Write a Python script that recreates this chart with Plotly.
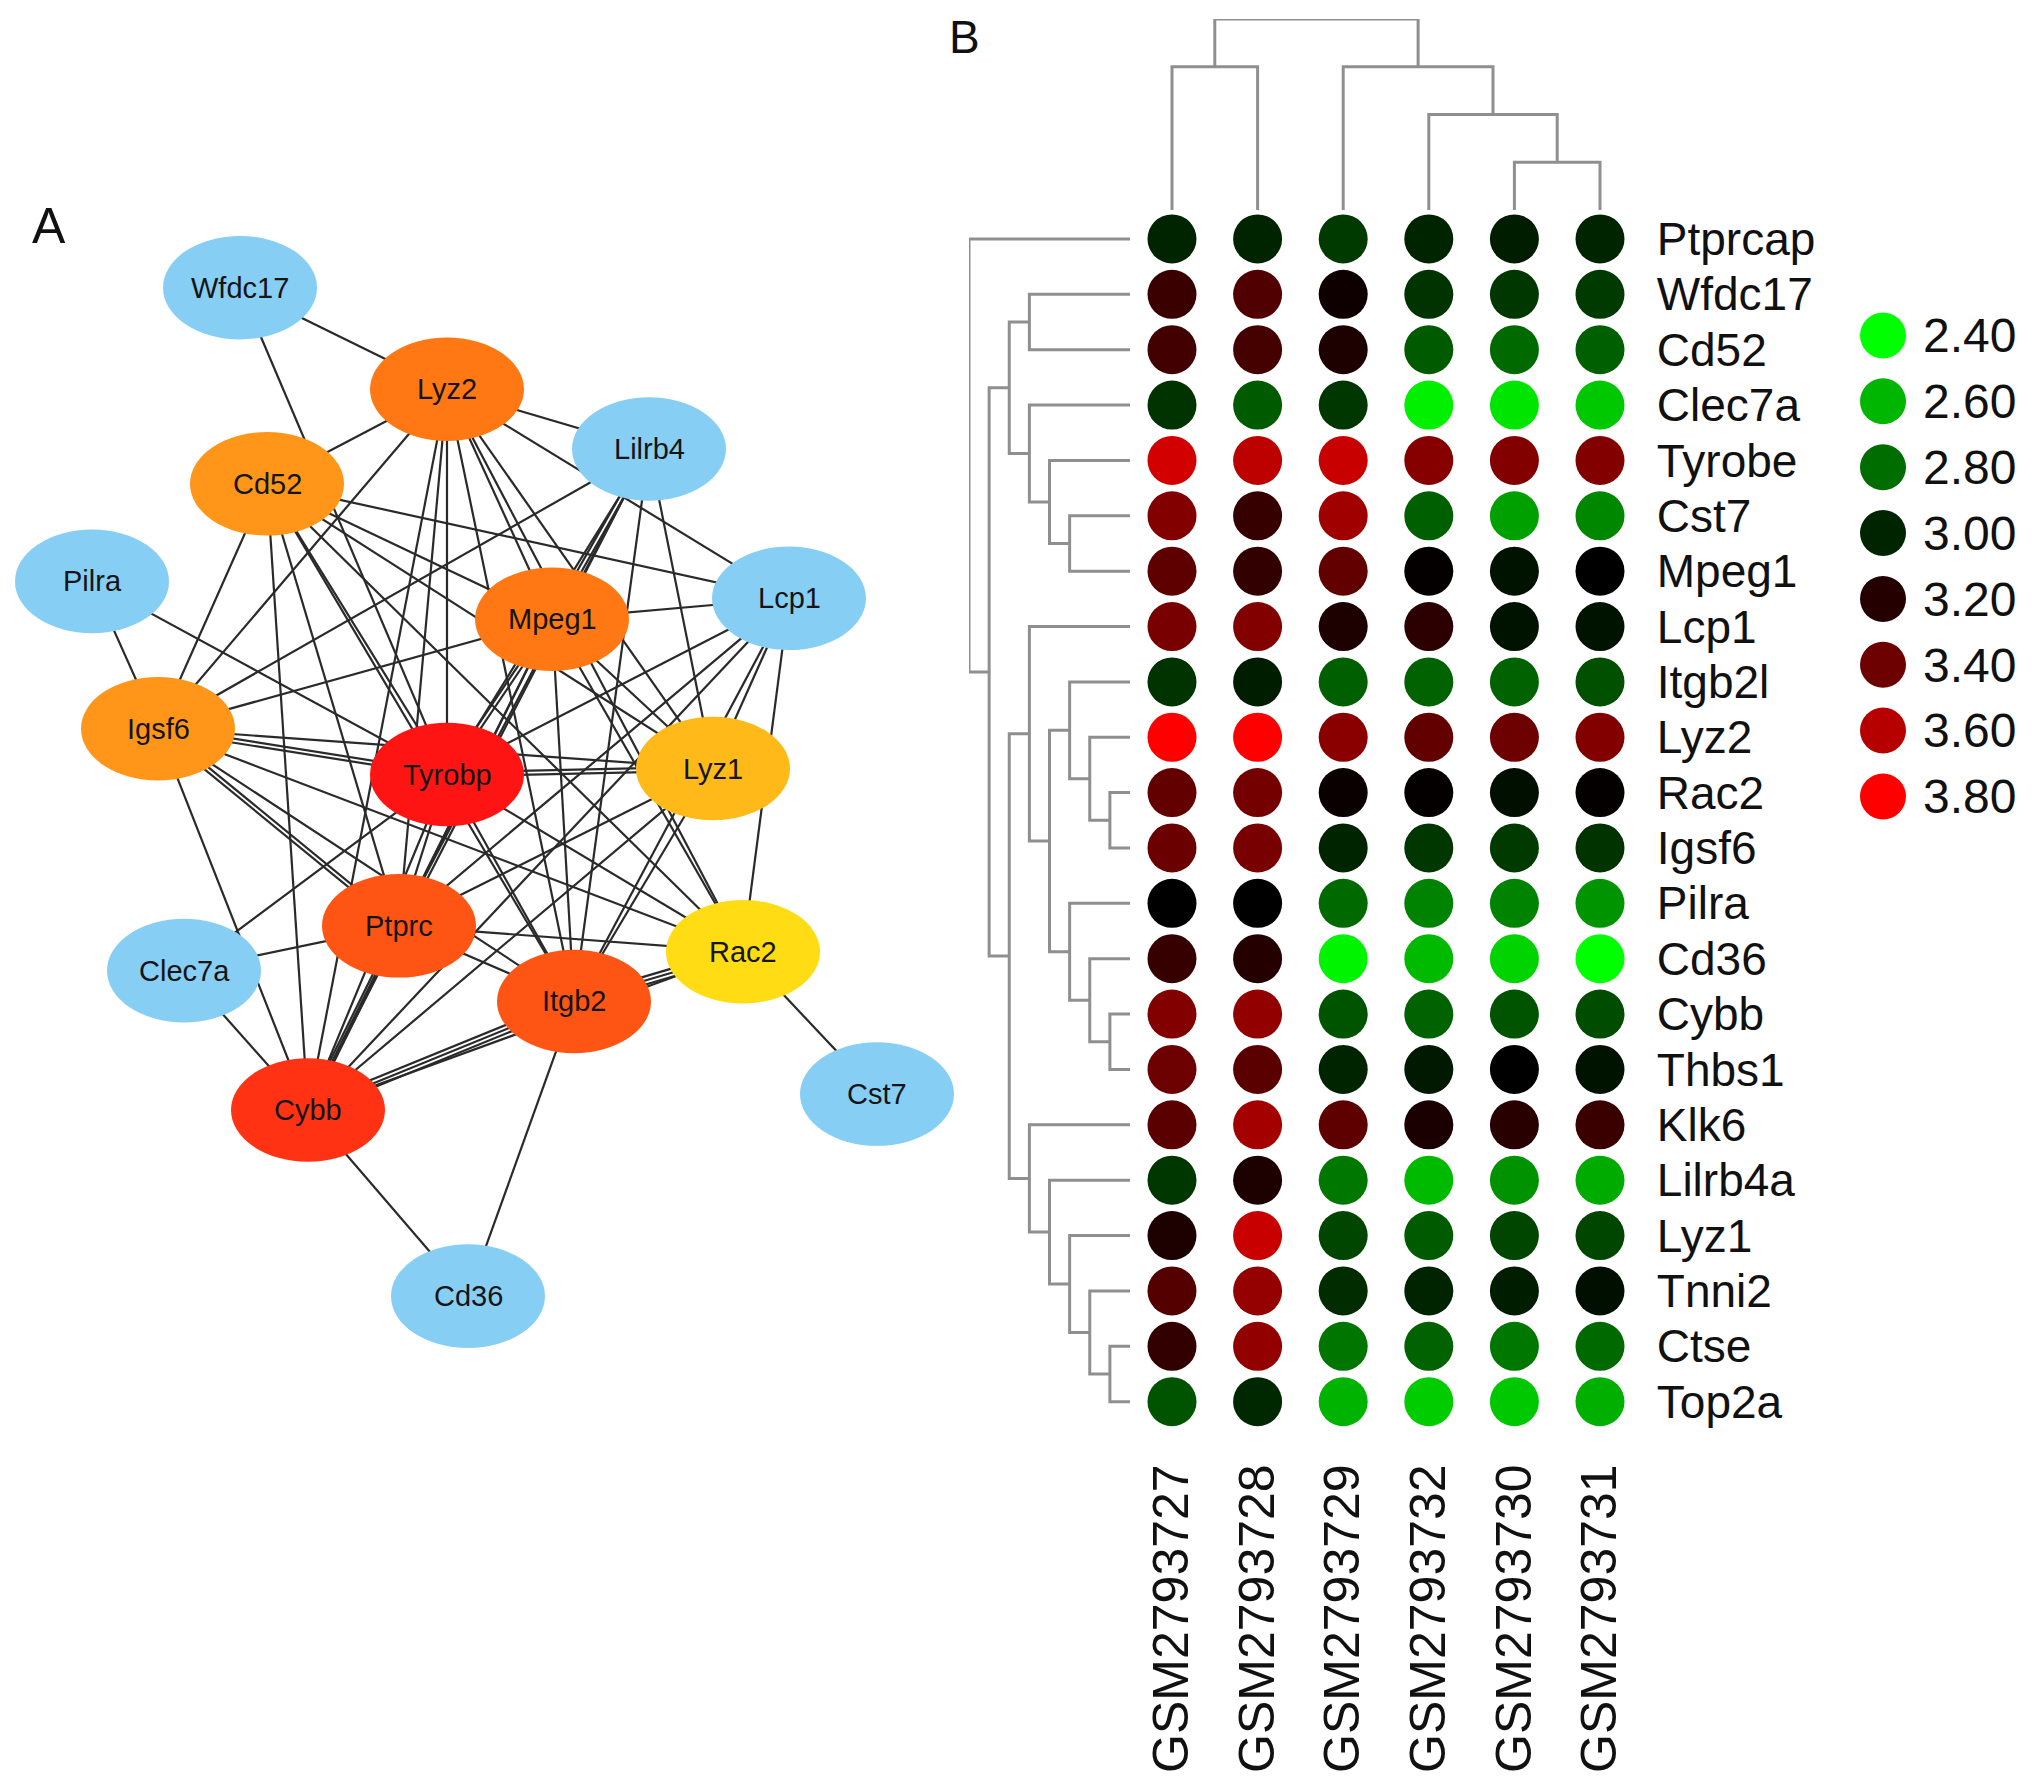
import itertools
import math
import plotly.graph_objects as go

# target window size and browser page margin (default body margin = 8 px)
WIN_W, WIN_H = 2032, 1781
OFF = 8
W, H = WIN_W - 2 * OFF, WIN_H - 2 * OFF

# ======================= Panel B data =======================
samples = ["GSM2793727", "GSM2793728", "GSM2793729", "GSM2793732", "GSM2793730", "GSM2793731"]
genes = ["Ptprcap", "Wfdc17", "Cd52", "Clec7a", "Tyrobe", "Cst7", "Mpeg1", "Lcp1", "Itgb2l",
         "Lyz2", "Rac2", "Igsf6", "Pilra", "Cd36", "Cybb", "Thbs1", "Klk6", "Lilrb4a", "Lyz1",
         "Tnni2", "Ctse", "Top2a"]
expr_values = [
    [3.00, 3.00, 2.94, 3.00, 3.02, 3.00],  # Ptprcap
    [3.26, 3.32, 3.14, 2.96, 2.95, 2.94],  # Wfdc17
    [3.28, 3.29, 3.18, 2.85, 2.81, 2.84],  # Cd52
    [2.96, 2.85, 2.95, 2.44, 2.47, 2.55],  # Clec7a
    [3.68, 3.62, 3.65, 3.47, 3.46, 3.46],  # Tyrobe
    [3.46, 3.25, 3.54, 2.84, 2.66, 2.73],  # Cst7
    [3.36, 3.24, 3.37, 3.11, 3.05, 3.10],  # Mpeg1
    [3.43, 3.46, 3.18, 3.22, 3.05, 3.05],  # Lcp1
    [2.96, 3.02, 2.84, 2.83, 2.83, 2.88],  # Itgb2l
    [3.80, 3.80, 3.48, 3.37, 3.40, 3.46],  # Lyz2
    [3.37, 3.42, 3.13, 3.11, 3.06, 3.11],  # Rac2
    [3.39, 3.43, 3.00, 2.95, 2.94, 2.96],  # Igsf6
    [3.10, 3.10, 2.81, 2.74, 2.74, 2.69],  # Pilra
    [3.25, 3.20, 2.43, 2.59, 2.52, 2.40],  # Cd36
    [3.46, 3.50, 2.87, 2.83, 2.87, 2.89],  # Cybb
    [3.40, 3.35, 3.00, 3.03, 3.10, 3.05],  # Thbs1
    [3.35, 3.55, 3.36, 3.17, 3.21, 3.26],  # Klk6
    [2.95, 3.18, 2.77, 2.59, 2.70, 2.63],  # Lilrb4a
    [3.18, 3.65, 2.91, 2.85, 2.91, 2.91],  # Lyz1
    [3.33, 3.51, 2.98, 3.00, 3.02, 3.06],  # Tnni2
    [3.24, 3.50, 2.78, 2.83, 2.77, 2.81],  # Ctse
    [2.87, 2.99, 2.61, 2.54, 2.55, 2.62],  # Top2a
]
legend_values = [2.40, 2.60, 2.80, 3.00, 3.20, 3.40, 3.60, 3.80]

# dendrograms: (id, left, right, height)
row_merges = [
    ("r1", "Wfdc17", "Cd52", 5), ("r2", "Cst7", "Mpeg1", 3), ("r3", "Tyrobe", "r2", 4),
    ("r4", "Clec7a", "r3", 5), ("r5", "r1", "r4", 6), ("r6", "Rac2", "Igsf6", 1),
    ("r7", "Lyz2", "r6", 2), ("r8", "Itgb2l", "r7", 3), ("r9", "Cybb", "Thbs1", 1),
    ("r10", "Cd36", "r9", 2), ("r11", "Pilra", "r10", 3), ("r12", "r8", "r11", 4),
    ("r13", "Lcp1", "r12", 5), ("r14", "Ctse", "Top2a", 1), ("r15", "Tnni2", "r14", 2),
    ("r16", "Lyz1", "r15", 3), ("r17", "Lilrb4a", "r16", 4), ("r18", "Klk6", "r17", 5),
    ("r19", "r13", "r18", 6), ("r20", "r5", "r19", 7), ("r21", "Ptprcap", "r20", 8),
]
col_merges = [
    ("c1", "GSM2793730", "GSM2793731", 1), ("c2", "GSM2793732", "c1", 2),
    ("c3", "GSM2793729", "c2", 3), ("c4", "GSM2793727", "GSM2793728", 3),
    ("c5", "c4", "c3", 4),
]

# ======================= Panel A data =======================
node_names = ["Wfdc17", "Lyz2", "Lilrb4", "Cd52", "Pilra", "Mpeg1", "Lcp1", "Igsf6", "Tyrobp",
              "Lyz1", "Ptprc", "Clec7a", "Rac2", "Itgb2", "Cybb", "Cst7", "Cd36"]
node_x = [240, 447, 649, 267, 92, 552, 789, 158, 447, 713, 399, 184, 743, 574, 308, 877, 468]
node_y = [289, 391, 451, 486, 584, 622, 601, 732, 778, 772, 930, 975, 956, 1006, 1115, 1099, 1302]
node_colors = ["#87CEF5", "#FF7814", "#87CEF5", "#FF9619", "#87CEF5", "#FF7814", "#87CEF5",
               "#FF9619", "#FF1414", "#FFB919", "#FF5514", "#87CEF5", "#FFDC14", "#FF5514",
               "#FF3214", "#87CEF5", "#87CEF5"]
hub_nodes = ["Tyrobp", "Cybb", "Ptprc", "Itgb2", "Lyz2", "Mpeg1", "Cd52", "Igsf6", "Lyz1", "Rac2"]
missing_hub_edges = [("Lyz1", "Rac2")]
extra_edges = [
    ("Wfdc17", "Lyz2"), ("Wfdc17", "Tyrobp"),
    ("Pilra", "Igsf6"), ("Pilra", "Tyrobp"),
    ("Lilrb4", "Lyz2"), ("Lilrb4", "Igsf6"), ("Lilrb4", "Tyrobp"), ("Lilrb4", "Ptprc"),
    ("Lilrb4", "Cybb"), ("Lilrb4", "Mpeg1"), ("Lilrb4", "Itgb2"), ("Lilrb4", "Lyz1"),
    ("Lcp1", "Lyz2"), ("Lcp1", "Cd52"), ("Lcp1", "Mpeg1"), ("Lcp1", "Tyrobp"), ("Lcp1", "Ptprc"),
    ("Lcp1", "Itgb2"), ("Lcp1", "Cybb"), ("Lcp1", "Lyz1"), ("Lcp1", "Rac2"),
    ("Clec7a", "Ptprc"), ("Clec7a", "Cybb"), ("Clec7a", "Tyrobp"),
    ("Cst7", "Rac2"),
    ("Cd36", "Cybb"), ("Cd36", "Itgb2"),
]
edge_multiplicity = {("Cybb", "Itgb2"): 3, ("Itgb2", "Rac2"): 3, ("Igsf6", "Tyrobp"): 2,
                     ("Tyrobp", "Mpeg1"): 2, ("Cybb", "Ptprc"): 2, ("Lilrb4", "Mpeg1"): 2,
                     ("Igsf6", "Ptprc"): 2, ("Tyrobp", "Lyz1"): 2}

# ======================= helpers (window pixel -> paper fraction) =======================
def fx(px):
    return (px - OFF) / W


def fy(py):
    return 1 - (py - OFF) / H


fig = go.Figure()

# ---------- network (axis units = window pixels) ----------
pos = {n: (x, y) for n, x, y in zip(node_names, node_x, node_y)}
edges = [e for e in itertools.combinations(hub_nodes, 2)
         if e not in missing_hub_edges and (e[1], e[0]) not in missing_hub_edges]
edges += extra_edges
ex, ey = [], []
for a, b in edges:
    m = edge_multiplicity.get((a, b), edge_multiplicity.get((b, a), 1))
    (x1, y1), (x2, y2) = pos[a], pos[b]
    L = math.hypot(x2 - x1, y2 - y1)
    nx, ny = -(y2 - y1) / L, (x2 - x1) / L
    for k in range(m):
        off = (k - (m - 1) / 2) * 4.0
        ex += [x1 + nx * off, x2 + nx * off, None]
        ey += [y1 + ny * off, y2 + ny * off, None]
fig.add_trace(go.Scatter(x=ex, y=ey, mode="lines", xaxis="x", yaxis="y",
                         line=dict(color="#2a2a2a", width=2.2), hoverinfo="skip",
                         showlegend=False))

RX, RY = 77, 52
shapes = []
annotations = []
for n, c in zip(node_names, node_colors):
    x, y = pos[n]
    shapes.append(dict(type="circle", xref="x", yref="y", x0=x - RX, x1=x + RX,
                       y0=y - RY, y1=y + RY, fillcolor=c, line=dict(width=0), layer="above"))
    annotations.append(dict(x=x, y=y, xref="x", yref="y", text=n, showarrow=False,
                            xanchor="center", yanchor="middle",
                            font=dict(family="Liberation Sans Narrow, Arial Narrow, Liberation Sans, Arial",
                                      size=29, color="#151515")))

# ---------- heatmap (dot matrix) ----------
cx0, cx1 = 1172, 1600
cstep = (cx1 - cx0) / (len(samples) - 1)
hx_dom = [fx(cx0 - cstep / 2), fx(cx1 + cstep / 2)]
ry0, ry1 = 240, 1408
rstep = (ry1 - ry0) / (len(genes) - 1)
hy_dom = [fy(ry1 + rstep / 2), fy(ry0 - rstep / 2)]

cs = [[0, "#00FF00"], [0.5, "#000000"], [1, "#FF0000"]]
hx, hy, hc = [], [], []
for g, row in zip(genes, expr_values):
    for s, v in zip(samples, row):
        hx.append(s)
        hy.append(g)
        hc.append(v)
fig.add_trace(go.Scatter(x=hx, y=hy, mode="markers", xaxis="x2", yaxis="y2",
                         marker=dict(size=49, color=hc, colorscale=cs, cmin=2.4, cmax=3.8,
                                     line=dict(width=0)),
                         hoverinfo="skip", showlegend=False))

# ---------- dendrograms ----------
def dendro_segments(merges, leaf_pos):
    p = dict(leaf_pos)
    h = {k: 0 for k in leaf_pos}
    segs = []
    for mid, a, b, ht in merges:
        segs.append(([p[a], p[a], p[b], p[b]], [h[a], ht, ht, h[b]]))
        p[mid] = (p[a] + p[b]) / 2
        h[mid] = ht
    return segs


row_segs = dendro_segments(row_merges, {g: i for i, g in enumerate(genes)})
dx, dy = [], []
for ps, hs in row_segs:
    dx += hs + [None]
    dy += ps + [None]
fig.add_trace(go.Scatter(x=dx, y=dy, mode="lines", xaxis="x3", yaxis="y3",
                         line=dict(color="#8f8f8f", width=3), hoverinfo="skip",
                         showlegend=False))

col_segs = dendro_segments(col_merges, {s: i for i, s in enumerate(samples)})
dx, dy = [], []
for ps, hs in col_segs:
    dx += ps + [None]
    dy += hs + [None]
fig.add_trace(go.Scatter(x=dx, y=dy, mode="lines", xaxis="x4", yaxis="y4",
                         line=dict(color="#8f8f8f", width=3), hoverinfo="skip",
                         showlegend=False))

# ---------- legend ----------
legend_labels = [f"{v:.2f}" for v in legend_values]
fig.add_trace(go.Scatter(x=[0] * len(legend_values), y=legend_labels, mode="markers",
                         xaxis="x5", yaxis="y5",
                         marker=dict(size=46, color=legend_values, colorscale=cs,
                                     cmin=2.4, cmax=3.8),
                         hoverinfo="skip", showlegend=False))
lg0, lg1 = 337, 800
lstep = (lg1 - lg0) / (len(legend_values) - 1)

# panel letters
annotations.append(dict(x=fx(49), y=fy(227), xref="paper", yref="paper", text="A",
                        xanchor="center", yanchor="middle", showarrow=False,
                        font=dict(family="Liberation Sans, Arial", size=50, color="#111")))
annotations.append(dict(x=fx(964), y=fy(37), xref="paper", yref="paper", text="B",
                        xanchor="center", yanchor="middle", showarrow=False,
                        font=dict(family="Liberation Sans, Arial", size=46, color="#111")))

hidden = dict(visible=False, showgrid=False, zeroline=False)
txtfont = "Liberation Sans, Arial, Helvetica, sans-serif"
fig.update_layout(
    width=W, height=H, margin=dict(l=0, r=0, t=0, b=0),
    paper_bgcolor="white", plot_bgcolor="rgba(0,0,0,0)",
    shapes=shapes, annotations=annotations, showlegend=False,
    xaxis=dict(domain=[0, fx(1008)], range=[OFF, 1008], **hidden),
    yaxis=dict(domain=[0, 1], range=[OFF + H, OFF], **hidden),
    xaxis2=dict(domain=hx_dom, type="category", categoryorder="array", categoryarray=samples,
                range=[-0.5, len(samples) - 0.5], anchor="y2", side="bottom",
                showgrid=False, zeroline=False, showline=False, ticks="",
                tickangle=-90, ticklabelstandoff=24,
                tickfont=dict(family=txtfont, size=50, color="#111")),
    yaxis2=dict(domain=hy_dom, type="category", categoryorder="array", categoryarray=genes,
                range=[len(genes) - 0.5, -0.5], anchor="x2", side="right",
                showgrid=False, zeroline=False, showline=False, ticks="",
                ticklabelstandoff=13,
                tickfont=dict(family=txtfont, size=46, color="#111")),
    xaxis3=dict(domain=[fx(969), fx(1130)], range=[8, 0], anchor="y3", **hidden),
    yaxis3=dict(domain=hy_dom, range=[len(genes) - 0.5, -0.5], anchor="x3", **hidden),
    xaxis4=dict(domain=hx_dom, range=[-0.5, len(samples) - 0.5], anchor="y4", **hidden),
    yaxis4=dict(domain=[fy(211), fy(19)], range=[0, 4], anchor="x4", **hidden),
    xaxis5=dict(domain=[fx(1860), fx(1906)], range=[-0.5, 0.5], anchor="y5", **hidden),
    yaxis5=dict(domain=[fy(lg1 + lstep / 2), fy(lg0 - lstep / 2)], type="category",
                categoryorder="array", categoryarray=legend_labels,
                range=[len(legend_values) - 0.5, -0.5], anchor="x5", side="right",
                showgrid=False, zeroline=False, showline=False, ticks="",
                ticklabelstandoff=16,
                tickfont=dict(family=txtfont, size=48, color="#111")),
)

fig.write_html("out.html")
